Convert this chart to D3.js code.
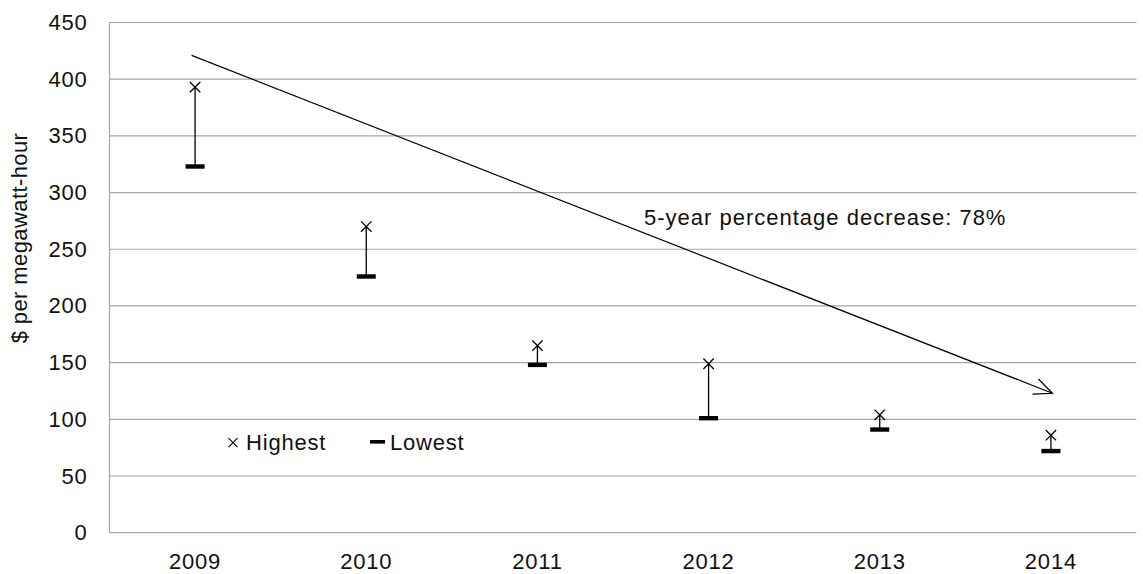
<!DOCTYPE html>
<html><head><meta charset="utf-8">
<script src="https://cdn.jsdelivr.net/npm/d3@7"></script>
<style>body{margin:0;background:#fff}svg{display:block}text{font-family:"Liberation Sans",Arial,sans-serif;fill:#111}</style>
</head><body><svg id="c" width="1143" height="574"></svg>
<script>
const years = ["2009","2010","2011","2012","2013","2014"];
const highest = [393, 270, 165, 149, 104, 86];
const lowest = [323, 226, 148, 101, 91, 72];
const yTicks = [0,50,100,150,200,250,300,350,400,450];
const trendStart = {year:"2009", value:421};
const trendEnd = {year:"2014", value:123};
const annotation = "5-year percentage decrease: 78%";
const yTitle = "$ per megawatt-hour";

const FS = 22;
const svg = d3.select("#c");
const m = {l:109.5, r:1136.5, t:22.5, b:532.7};
const x = d3.scaleBand().domain(years).range([m.l, m.r]);
const y = d3.scaleLinear().domain([0,450]).range([m.b, m.t]);
const cx = d => x(d) + x.bandwidth()/2;

// gridlines
svg.append("g").selectAll("line").data(yTicks).join("line")
  .attr("x1", m.l).attr("x2", m.r).attr("y1", d=>y(d)).attr("y2", d=>y(d))
  .attr("stroke", "#a6a6a6").attr("stroke-width", 1.2);
svg.append("line").attr("x1", m.l).attr("x2", m.l).attr("y1", m.t).attr("y2", m.b)
  .attr("stroke", "#a6a6a6").attr("stroke-width", 1.2);

// y axis labels
const ya = svg.append("g").attr("transform", `translate(${m.l},0)`)
  .call(d3.axisLeft(y).tickValues(yTicks).tickSize(0).tickPadding(22));
ya.select(".domain").remove();
ya.selectAll("text").attr("font-size", FS).attr("fill", "#111").attr("letter-spacing", 0.8)
  .style("font-family", '"Liberation Sans",Arial,sans-serif');

// x axis labels
const xa = svg.append("g").attr("transform", `translate(0,${m.b})`)
  .call(d3.axisBottom(x).tickSize(0).tickPadding(21));
xa.select(".domain").remove();
xa.selectAll("text").attr("font-size", FS).attr("fill", "#111").attr("letter-spacing", 0.8)
  .style("font-family", '"Liberation Sans",Arial,sans-serif');

// y title
svg.append("text").attr("transform", `translate(27,238) rotate(-90)`)
  .attr("text-anchor", "middle").attr("font-size", FS).attr("letter-spacing", 0.4).text(yTitle);

// whiskers
svg.append("g").selectAll("line").data(years).join("line")
  .attr("x1", d=>cx(d)).attr("x2", d=>cx(d))
  .attr("y1", (d,i)=>y(highest[i])).attr("y2", (d,i)=>y(lowest[i]))
  .attr("stroke", "#000").attr("stroke-width", 1.3);

// low markers
svg.append("g").selectAll("rect").data(years).join("rect")
  .attr("x", d=>cx(d)-9.5).attr("width", 19)
  .attr("y", (d,i)=>y(lowest[i])-2.2).attr("height", 4.4).attr("fill", "#000");

// high markers (x)
const xs = 5.2;
svg.append("g").selectAll("path").data(years).join("path")
  .attr("d", (d,i)=>{const px=cx(d), py=y(highest[i]);
    return `M${px-xs},${py-xs}L${px+xs},${py+xs}M${px-xs},${py+xs}L${px+xs},${py-xs}`;})
  .attr("stroke", "#000").attr("stroke-width", 1.3).attr("fill", "none");

// trend arrow
const x0 = cx(trendStart.year) - 3.5, y0 = y(trendStart.value);
const x1 = cx(trendEnd.year) + 1.5, y1 = y(trendEnd.value);
svg.append("line").attr("x1", x0).attr("y1", y0).attr("x2", x1).attr("y2", y1)
  .attr("stroke", "#000").attr("stroke-width", 1.2);
const ang = Math.atan2(y1-y0, x1-x0), hl = 20, ha = 0.42;
svg.append("path")
  .attr("d", `M${x1-hl*Math.cos(ang-ha)},${y1-hl*Math.sin(ang-ha)}L${x1},${y1}L${x1-hl*Math.cos(ang+ha)},${y1-hl*Math.sin(ang+ha)}`)
  .attr("stroke", "#000").attr("stroke-width", 1.2).attr("fill", "none");

// annotation
svg.append("text").attr("x", 644).attr("y", 225).attr("font-size", FS).attr("letter-spacing", 1.0).text(annotation);

// legend
const lg = svg.append("g");
lg.append("path").attr("d", `M${233-4.5},${442.7-4.5}L${233+4.5},${442.7+4.5}M${233-4.5},${442.7+4.5}L${233+4.5},${442.7-4.5}`)
  .attr("stroke", "#000").attr("stroke-width", 1.1);
lg.append("text").attr("x", 246).attr("y", 450).attr("font-size", FS).attr("letter-spacing", 0.8).text("Highest");
lg.append("rect").attr("x", 370).attr("y", 440).attr("width", 15).attr("height", 3.6).attr("fill", "#000");
lg.append("text").attr("x", 390).attr("y", 450).attr("font-size", FS).attr("letter-spacing", 0.8).text("Lowest");
</script></body></html>
